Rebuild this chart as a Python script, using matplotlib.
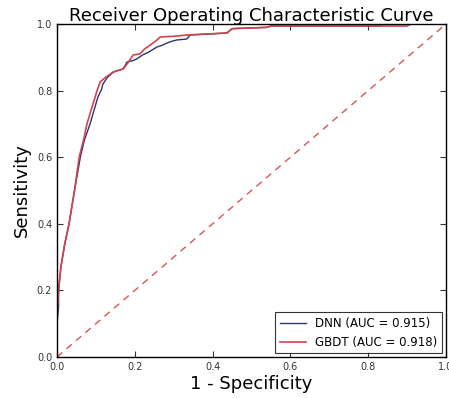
import matplotlib
matplotlib.use('Agg')
import matplotlib.pyplot as plt

# ROC points
dnn_fpr = [0.0, 0.0, 0.004, 0.004, 0.01, 0.02, 0.031, 0.045, 0.06, 0.07, 0.085, 0.095,
           0.105, 0.115, 0.118, 0.13, 0.145, 0.17, 0.18, 0.195, 0.205, 0.22, 0.235,
           0.257, 0.27, 0.283, 0.295, 0.308, 0.334, 0.342, 0.437, 0.45, 0.54, 0.55,
           0.83, 0.84, 1.0]
dnn_tpr = [0.0, 0.1, 0.15, 0.2, 0.27, 0.34, 0.4, 0.5, 0.6, 0.65, 0.7, 0.74,
           0.78, 0.805, 0.82, 0.84, 0.856, 0.865, 0.886, 0.89, 0.895, 0.907, 0.915,
           0.931, 0.936, 0.943, 0.948, 0.952, 0.955, 0.967, 0.973, 0.986, 0.99, 0.994,
           0.994, 1.0, 1.0]
gbdt_fpr = [0.0, 0.0, 0.004, 0.01, 0.02, 0.031, 0.045, 0.057, 0.07, 0.077, 0.09,
            0.103, 0.111, 0.125, 0.145, 0.17, 0.18, 0.196, 0.213, 0.225, 0.24, 0.255,
            0.265, 0.3, 0.334, 0.437, 0.45, 0.54, 0.55, 0.9, 0.91, 1.0]
gbdt_tpr = [0.0, 0.12, 0.2, 0.27, 0.34, 0.4, 0.5, 0.6, 0.66, 0.7, 0.75,
            0.8, 0.826, 0.84, 0.856, 0.865, 0.88, 0.907, 0.91, 0.925, 0.937, 0.95,
            0.961, 0.963, 0.967, 0.973, 0.986, 0.99, 0.994, 0.994, 1.0, 1.0]
labels = ['DNN (AUC = 0.915)', 'GBDT (AUC = 0.918)']

fig = plt.figure(figsize=(4.49, 3.98), dpi=100)
ax = fig.add_axes([57 / 449, 1 - 357 / 398, 389 / 449, 333 / 398])
ax.plot(dnn_fpr, dnn_tpr, color='#2c3470', lw=1, label=labels[0])
ax.plot(gbdt_fpr, gbdt_tpr, color='#d4424e', lw=1.2, label=labels[1])
ax.plot([0, 1], [0, 1], color='#d9545c', lw=1, dashes=(5, 4))
ax.set_xlim(0, 1)
ax.set_ylim(0, 1)
ax.set_xticks([0, 0.2, 0.4, 0.6, 0.8, 1.0])
ax.set_yticks([0, 0.2, 0.4, 0.6, 0.8, 1.0])
ax.tick_params(direction='in', top=True, right=True, labelsize=7, colors='#333333', length=4)
for s in ax.spines.values():
    s.set_linewidth(1)
ax.set_xlabel('1 - Specificity', fontsize=13, labelpad=2)
ax.set_ylabel('Sensitivity', fontsize=13)
ax.set_title('Receiver Operating Characteristic Curve', fontsize=13, pad=2)
leg = ax.legend(loc='lower right', fontsize=8.5, fancybox=False, edgecolor='black',
                borderaxespad=0.3, handlelength=2.2)
leg.get_frame().set_linewidth(0.8)
fig.savefig('out.png', dpi=100)
